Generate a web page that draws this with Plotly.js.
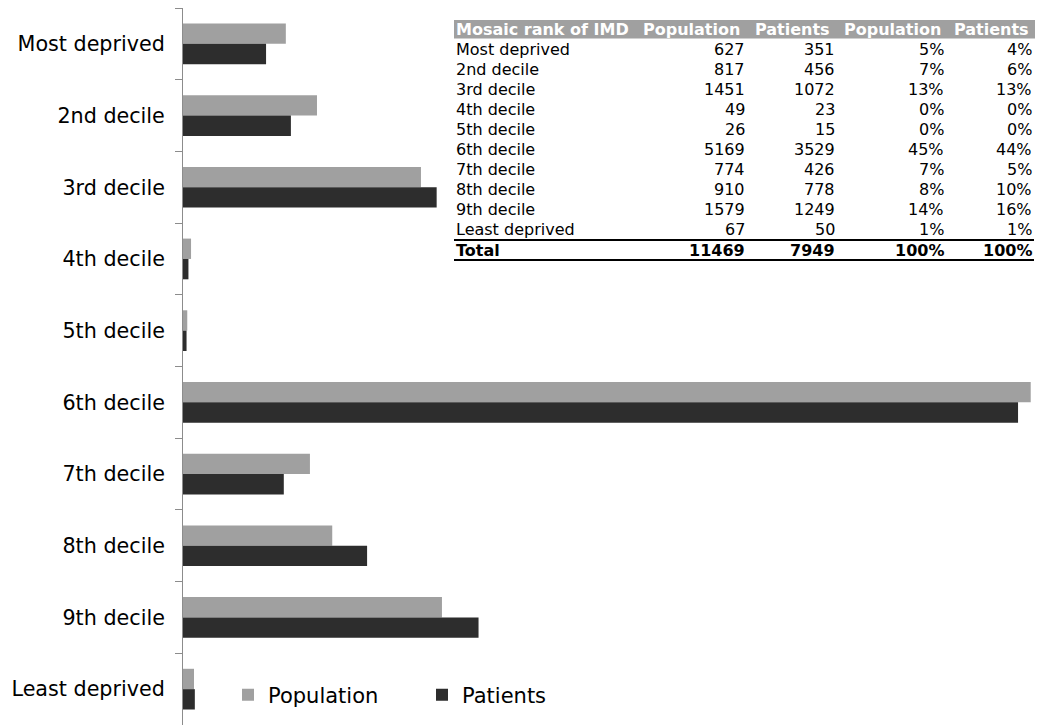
<!DOCTYPE html>
<html>
<head>
<meta charset="utf-8">
<script src="https://cdn.plot.ly/plotly-3.0.1.min.js"></script>
<style>
  html, body { margin: 0; padding: 0; background: #ffffff; }
  #chart { width: 1038px; height: 726px; }
</style>
</head>
<body>
<div id="chart"></div>
<script>
// Mosaic rank of IMD: population vs patients by deprivation decile
const deciles = [
  "Most deprived", "2nd decile", "3rd decile", "4th decile", "5th decile",
  "6th decile", "7th decile", "8th decile", "9th decile", "Least deprived"
];
const populationCounts = [627, 817, 1451, 49, 26, 5169, 774, 910, 1579, 67];
const patientCounts = [351, 456, 1072, 23, 15, 3529, 426, 778, 1249, 50];
const tableHeaders = ["Mosaic rank of IMD", "Population", "Patients", "Population", "Patients"];
const totalLabel = "Total";

const sum = a => a.reduce((s, v) => s + v, 0);
const popTotal = sum(populationCounts);
const patTotal = sum(patientCounts);
const popShare = populationCounts.map(v => v / popTotal * 100);
const patShare = patientCounts.map(v => v / patTotal * 100);

const W = 1038, H = 726;
const M = { l: 183, r: 2, t: 8, b: 1 };
const plotW = W - M.l - M.r, plotH = H - M.t - M.b;
const px = x => (x - M.l) / plotW;
const py = y => 1 - (y - M.t) / plotH;

const FONT = "DejaVu Sans, Verdana, sans-serif";
const GREY = "#a0a0a0", DARK = "#2d2d2d";

const traces = [
  { type: "bar", orientation: "h", name: "Population", y: deciles, x: popShare,
    marker: { color: GREY }, hoverinfo: "skip" },
  { type: "bar", orientation: "h", name: "Patients", y: deciles, x: patShare,
    marker: { color: DARK }, hoverinfo: "skip" }
];

// Summary table drawn as text annotations with shapes for header and rules
const annotations = [];
const shapes = [];
const colRight = [null, 746, 836, 945, 1033];
const headRight = [null, 741, 831, 942, 1030];
const colLeft = 455;
const fmtPct = v => Math.round(v) + "%";
const TFS = 16;

shapes.push({ type: "rect", xref: "paper", yref: "paper",
  x0: px(454), x1: px(1035), y0: py(20), y1: py(38.5),
  fillcolor: GREY, line: { width: 0 }, layer: "above" });

function cell(text, x, y, anchor, opts) {
  annotations.push(Object.assign({
    xref: "paper", yref: "paper", x: px(x), y: py(y), text: text,
    xanchor: anchor, yanchor: "middle", showarrow: false, borderpad: 0,
    font: { family: FONT, size: TFS, color: "#000" }
  }, opts || {}));
}

const headFont = { family: FONT, size: TFS, color: "#ffffff" };
cell("<b>" + tableHeaders[0] + "</b>", colLeft, 29.5, "left", { font: headFont });
for (let c = 1; c < 5; c++) cell("<b>" + tableHeaders[c] + "</b>", headRight[c], 29.5, "right", { font: headFont });

deciles.forEach((d, i) => {
  const y = 49.5 + 20 * i;
  cell(d, colLeft, y, "left");
  cell(String(populationCounts[i]), colRight[1], y, "right");
  cell(String(patientCounts[i]), colRight[2], y, "right");
  cell(fmtPct(popShare[i]), colRight[3], y, "right");
  cell(fmtPct(patShare[i]), colRight[4], y, "right");
});

const yTot = 250;
cell("<b>" + totalLabel + "</b>", colLeft, yTot, "left");
cell("<b>" + popTotal + "</b>", colRight[1], yTot, "right");
cell("<b>" + patTotal + "</b>", colRight[2], yTot, "right");
cell("<b>" + fmtPct(sum(popShare)) + "</b>", colRight[3], yTot, "right");
cell("<b>" + fmtPct(sum(patShare)) + "</b>", colRight[4], yTot, "right");

[240, 260].forEach(y => shapes.push({ type: "line", xref: "paper", yref: "paper",
  x0: px(454), x1: px(1034), y0: py(y), y1: py(y), line: { color: "#000", width: 2 } }));

const layout = {
  width: W, height: H,
  margin: M,
  paper_bgcolor: "#ffffff", plot_bgcolor: "#ffffff",
  font: { family: FONT, size: 20.7, color: "#000" },
  barmode: "group", bargap: 0.432, bargroupgap: 0,
  showlegend: true,
  legend: { orientation: "h", x: px(228), y: py(695), xanchor: "left", yanchor: "middle",
    font: { family: FONT, size: 21, color: "#000" }, entrywidth: 149, bgcolor: "rgba(0,0,0,0)" },
  xaxis: { range: [0, 45.35], visible: false, fixedrange: true },
  yaxis: {
    type: "category", autorange: "reversed", categoryorder: "array", categoryarray: deciles,
    tickson: "boundaries", ticks: "outside", ticklen: 7, tickcolor: "#8c8c8c",
    showline: true, linecolor: "#8c8c8c", linewidth: 1, showgrid: false, zeroline: false,
    ticklabelstandoff: 13, tickfont: { family: FONT, size: 20.7, color: "#000" }, fixedrange: true
  },
  annotations: annotations,
  shapes: shapes
};

Plotly.newPlot("chart", traces, layout, { displayModeBar: false, staticPlot: true });
</script>
</body>
</html>
